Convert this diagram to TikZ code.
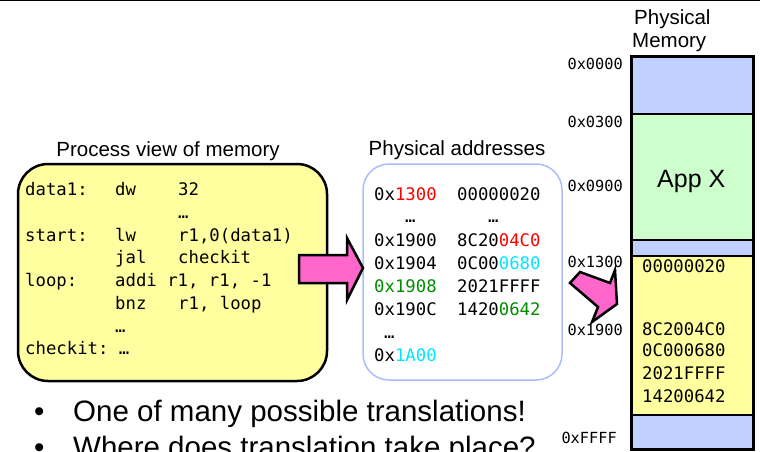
\documentclass[tikz,border=0pt]{standalone}
\usepackage{fontspec}
\setmainfont{Liberation Sans}
\setmonofont{DejaVu Sans Mono}
\usetikzlibrary{positioning}
\definecolor{memyel}{RGB}{255,255,160}
\definecolor{memgrn}{RGB}{204,255,204}
\definecolor{memblu}{RGB}{192,208,255}
\definecolor{pinkarr}{RGB}{255,102,204}
\definecolor{boxblu}{RGB}{170,190,255}
\definecolor{adred}{RGB}{255,0,0}
\definecolor{adcyan}{RGB}{0,230,255}
\definecolor{adgrn}{RGB}{0,140,0}
\newcommand{\fsz}[1]{\fontsize{#1}{#1}\selectfont}
\tikzset{
  ttl/.style={font=\fsz{20.5}, anchor=base, inner sep=0pt},
  code/.style={font=\ttfamily\fsz{17.3}, anchor=base west, inner sep=0pt},
  maddr/.style={font=\ttfamily\fsz{15.3}, anchor=base east, inner sep=0pt},
  seg/.style={draw=black, line width=2pt},
  parr/.style={fill=pinkarr, draw=black, line width=2.5pt, line join=miter},
  blt/.style={font=\fsz{29.5}, anchor=base west, inner sep=0pt},
}
\begin{document}
\begin{tikzpicture}[x=1pt, y=-1pt]
\useasboundingbox (0,0) rectangle (760,452);
\draw[line width=1.5pt] (0,0.75) -- (760,0.75);
% process view
\node[ttl] (pvttl) at (168,156) {Process view of memory};
\draw[fill=memyel, line width=2.5pt, rounded corners=30pt] (18,164) rectangle (327,381);
\node[code] (lab1) at (25,195) {data1:};
\node[code] (op1) at (115,195) {dw};
\node[code] (ar1) at (178,195) {32};
\node[code] (ar2) at (178,218) {…};
\node[code] (lab3) at (25,241) {start:};
\node[code] (op3) at (115,241) {lw};
\node[code] (ar3) at (178,241) {r1,0(data1)};
\node[code] (op4) at (115,263.5) {jal};
\node[code] (ar4) at (178,263.5) {checkit};
\node[code] (lab5) at (25,286.5) {loop:};
\node[code] (op5) at (115,286.5) {addi r1, r1, -1};
\node[code] (op6) at (115,309) {bnz};
\node[code] (ar6) at (178,309) {r1, loop};
\node[code] (op7) at (115,332) {…};
\node[code] (lab8) at (25,354.5) {checkit: …};
% physical addresses
\node[ttl] (pattl) at (457,155) {Physical addresses};
\draw[draw=boxblu, fill=white, line width=1.5pt, rounded corners=26pt] (363,164) rectangle (562,380);
\node[code] (pa1) at (374,200) {0x\textcolor{adred}{1300}};
\node[code] (pv1) at (457,200) {00000020};
\node[code] (pa2) at (405,222) {…};
\node[code] (pv2) at (488,222) {…};
\node[code] (pa3) at (374,246) {0x1900};
\node[code] (pv3) at (457,246) {8C20\textcolor{adred}{04C0}};
\node[code] (pa4) at (374,269) {0x1904};
\node[code] (pv4) at (457,269) {0C00\textcolor{adcyan}{0680}};
\node[code, text=adgrn] (pa5) at (374,292) {0x1908};
\node[code] (pv5) at (457,292) {2021FFFF};
\node[code] (pa6) at (374,315) {0x190C};
\node[code] (pv6) at (457,315) {1420\textcolor{adgrn}{0642}};
\node[code] (pa7) at (384,338) {…};
\node[code] (pa8) at (374,361) {0x\textcolor{adcyan}{1A00}};
% arrows
\draw[parr] (299,255) -- (347,255) -- (347,238) -- (363,268) -- (347,300) -- (347,283) -- (299,283) -- cycle;
\draw[parr] (580,272) -- (610,283) -- (615,270) -- (617,304) -- (592,322) -- (598,307) -- (570,283) -- cycle;
% physical memory
\node[ttl, anchor=base west] (pmttl1) at (634,25) {Physical};
\node[ttl, anchor=base west] (pmttl2) at (632,48) {Memory};
\fill[memblu] (631,57) rectangle (753,114);
\fill[memgrn] (631,114) rectangle (753,240);
\fill[memblu] (631,240) rectangle (753,256);
\fill[memyel] (631,256) rectangle (753,415);
\fill[memblu] (631,415) rectangle (753,449);
\draw[seg] (631,114) -- (753,114);
\draw[seg] (631,240) -- (753,240);
\draw[seg] (631,256) -- (753,256);
\draw[seg] (631,415) -- (753,415);
\draw[line width=3pt] (631,57) rectangle (753,449);
\node[font=\fsz{25}, anchor=base west, inner sep=0pt] (appx) at (657,187) {App X};
\node[maddr] (ma1) at (623,70) {0x0000};
\node[maddr] (ma2) at (623,127) {0x0300};
\node[maddr] (ma3) at (623,191) {0x0900};
\node[maddr] (ma4) at (623,267) {0x1300};
\node[maddr] (ma5) at (623,335) {0x1900};
\node[maddr] (ma6) at (617,443) {0xFFFF};
\node[code] (mv1) at (642,272) {00000020};
\node[code] (mv2) at (642,335) {8C2004C0};
\node[code] (mv3) at (642,356) {0C000680};
\node[code] (mv4) at (642,379) {2021FFFF};
\node[code] (mv5) at (642,402) {14200642};
% bullets
\node[blt] (b1) at (34,421) {•};
\node[blt] (t1) at (73,421) {One of many possible translations!};
\node[blt] (b2) at (34,457) {•};
\node[blt] (t2) at (73,457) {Where does translation take place?};
\end{tikzpicture}
\end{document}
